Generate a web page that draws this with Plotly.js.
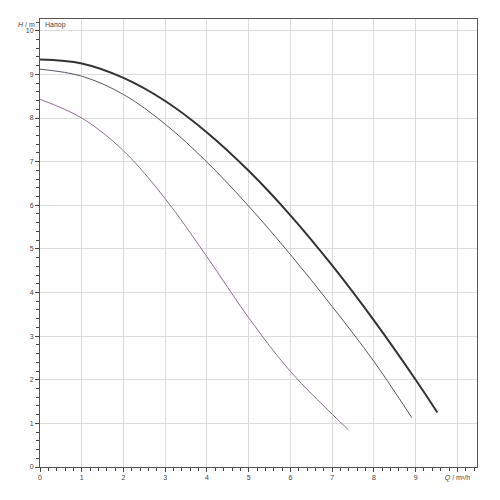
<!DOCTYPE html>
<html>
<head>
<meta charset="utf-8">
<script src="https://cdn.plot.ly/plotly-3.0.1.min.js"></script>
<style>html,body{margin:0;padding:0;background:#fff;}#chart{width:500px;height:500px;}</style>
</head>
<body>
<div id="chart"></div>
<script>
// Flow Q (m³/h) and head H (m) for three pump curves
const q1 = [0, 1, 2, 3, 4, 5, 6, 7, 8, 9, 9.52];
const h1 = [9.34, 9.25, 8.92, 8.39, 7.67, 6.79, 5.77, 4.62, 3.36, 2.00, 1.25];
const q2 = [0, 1, 2, 3, 4, 5, 6, 7, 8, 8.91];
const h2 = [9.12, 8.96, 8.54, 7.86, 6.99, 5.98, 4.87, 3.68, 2.42, 1.13];
const q3 = [0, 1, 2, 3, 4, 5, 6, 7, 7.39];
const h3 = [8.43, 8.00, 7.25, 6.15, 4.82, 3.42, 2.19, 1.21, 0.85];
const xTickVals = [0, 1, 2, 3, 4, 5, 6, 7, 8, 9, 10];
const xTickText = ['0', '1', '2', '3', '4', '5', '6', '7', '8', '9', '<i>Q</i> / m³/h'];
const yTickVals = [0, 1, 2, 3, 4, 5, 6, 7, 8, 9, 10];
const yLabel = '<i>H</i> / m';
const seriesLabel = 'Напор';

const traces = [
  {x: q3, y: h3, mode: 'lines', line: {color: '#8c6f8f', width: 1, shape: 'spline', smoothing: 1}, hoverinfo: 'skip'},
  {x: q2, y: h2, mode: 'lines', line: {color: '#5e5563', width: 1, shape: 'spline', smoothing: 1}, hoverinfo: 'skip'},
  {x: q1, y: h1, mode: 'lines', line: {color: '#333333', width: 2, shape: 'spline', smoothing: 1}, hoverinfo: 'skip'}
];

const fontSpec = {family: 'Liberation Sans, Arial, sans-serif', size: 7, color: '#444'};

const axisCommon = {
  showline: true, linecolor: '#555', linewidth: 1, mirror: true,
  showgrid: true, gridcolor: '#dcdcdc', gridwidth: 1,
  zeroline: false,
  ticks: 'outside', ticklen: 4, tickcolor: '#444', tickwidth: 1,
  tickfont: fontSpec,
  minor: {dtick: 0.2, ticks: 'outside', ticklen: 3, tickcolor: '#444', showgrid: false},
  tickmode: 'array'
};

const layout = {
  width: 500, height: 500,
  margin: {l: 40, r: 23, t: 19, b: 33},
  paper_bgcolor: '#fff', plot_bgcolor: '#fff',
  showlegend: false,
  xaxis: Object.assign({}, axisCommon, {range: [0, 10.47], tickvals: xTickVals, ticktext: xTickText, ticklabelstandoff: 0}),
  yaxis: Object.assign({}, axisCommon, {range: [0, 10.27], tickvals: yTickVals, ticktext: yTickVals.map(String)}),
  annotations: [
    {xref: 'paper', yref: 'paper', x: -0.008, y: 1.0, xanchor: 'right', yanchor: 'middle', yshift: -5,
     text: yLabel, showarrow: false, font: fontSpec},
    {xref: 'paper', yref: 'paper', x: 0.006, y: 1.0, xanchor: 'left', yanchor: 'middle', yshift: -6,
     text: seriesLabel, showarrow: false, font: fontSpec}
  ]
};

Plotly.newPlot('chart', traces, layout, {staticPlot: true});
</script>
</body>
</html>
